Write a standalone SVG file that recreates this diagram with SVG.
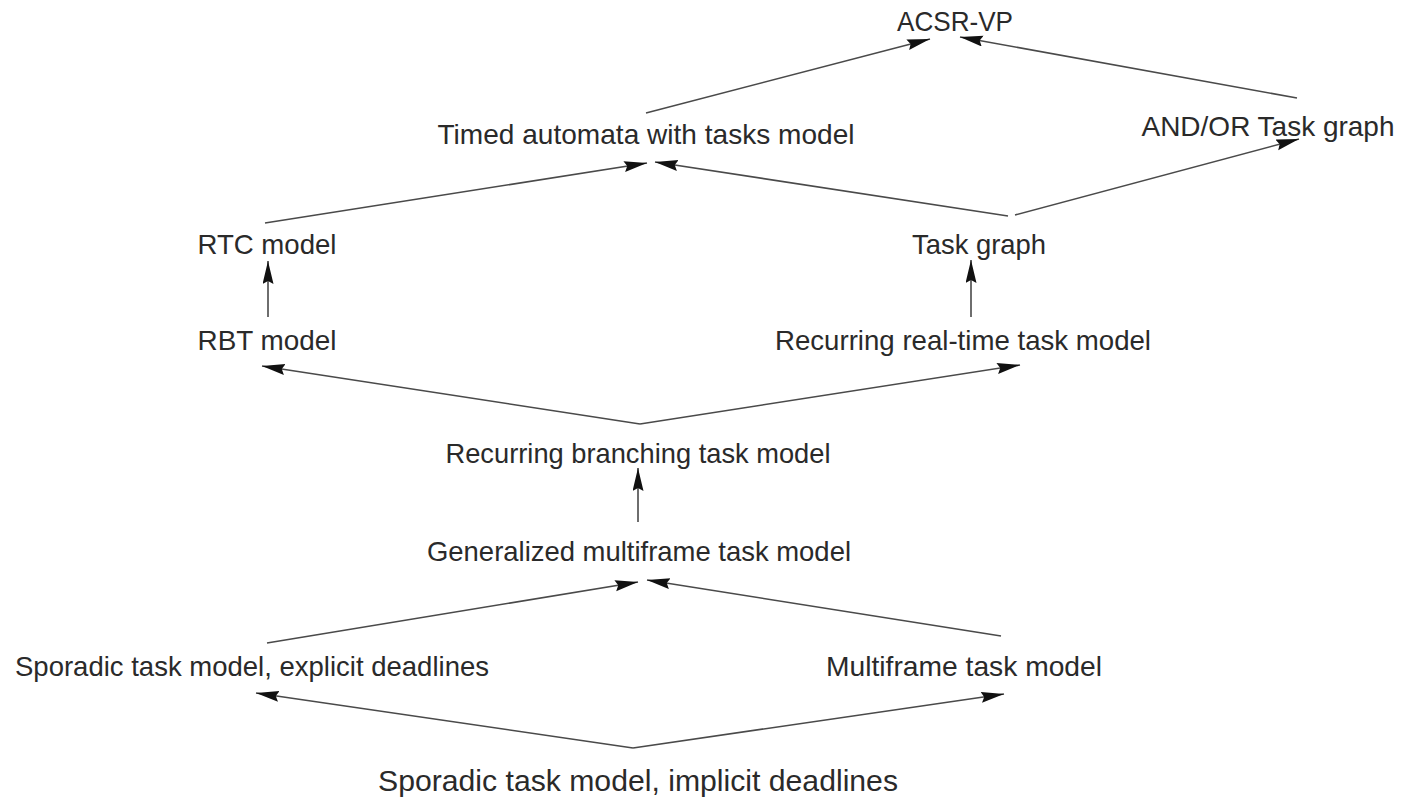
<svg xmlns="http://www.w3.org/2000/svg" width="1409" height="803" viewBox="0 0 1409 803">
  <style>
    .lbl { font-family: "Liberation Sans", Arial, sans-serif; font-size: 28px; fill: #2a2a2a; text-anchor: middle; }
    .big { font-size: 30px; }
    .edge { stroke: #4a4a4a; stroke-width: 1.6; fill: none; marker-end: url(#head); }
  </style>
  <defs>
    <!-- filled arrowhead, tip sits exactly on the line end -->
    <marker id="head" markerUnits="userSpaceOnUse" markerWidth="26" markerHeight="12" refX="23" refY="5.5" orient="auto">
      <path d="M0,0 L23,5.5 L0,11 L3,5.5 Z" fill="#111"/>
    </marker>
  </defs>
  <rect width="1409" height="803" fill="#fff"/>

  <g id="connectors">
    <line class="edge" x1="646" y1="113" x2="930" y2="39"/>
    <line class="edge" x1="1297" y1="98" x2="960" y2="37"/>
    <line class="edge" x1="265" y1="223" x2="647" y2="163"/>
    <line class="edge" x1="1008" y1="216" x2="655" y2="162"/>
    <line class="edge" x1="1015" y1="215" x2="1299" y2="139"/>
    <line class="edge" x1="268" y1="317" x2="268" y2="261"/>
    <line class="edge" x1="971" y1="317" x2="971" y2="260"/>
    <line class="edge" x1="640" y1="424" x2="262" y2="366"/>
    <line class="edge" x1="640" y1="424" x2="1020" y2="365"/>
    <line class="edge" x1="638" y1="522" x2="638" y2="468"/>
    <line class="edge" x1="267" y1="643" x2="638" y2="582"/>
    <line class="edge" x1="1001" y1="636" x2="647" y2="580"/>
    <line class="edge" x1="633" y1="748" x2="256" y2="693"/>
    <line class="edge" x1="633" y1="748" x2="1004" y2="694"/>
  </g>

  <g id="acsr-vp"><text class="lbl" x="955" y="31" textLength="116" lengthAdjust="spacingAndGlyphs">ACSR-VP</text></g>
  <g id="timed-automata"><text class="lbl" x="646" y="144" textLength="417" lengthAdjust="spacingAndGlyphs">Timed automata with tasks model</text></g>
  <g id="and-or-task-graph"><text class="lbl" x="1268" y="136" textLength="253" lengthAdjust="spacingAndGlyphs">AND/OR Task graph</text></g>
  <g id="rtc-model"><text class="lbl" x="267" y="254" textLength="139" lengthAdjust="spacingAndGlyphs">RTC model</text></g>
  <g id="task-graph"><text class="lbl" x="979" y="254" textLength="134" lengthAdjust="spacingAndGlyphs">Task graph</text></g>
  <g id="rbt-model"><text class="lbl" x="267" y="350" textLength="139" lengthAdjust="spacingAndGlyphs">RBT model</text></g>
  <g id="recurring-real-time"><text class="lbl" x="963" y="350" textLength="376" lengthAdjust="spacingAndGlyphs">Recurring real-time task model</text></g>
  <g id="recurring-branching"><text class="lbl" x="638" y="463" textLength="385" lengthAdjust="spacingAndGlyphs">Recurring branching task model</text></g>
  <g id="generalized-multiframe"><text class="lbl" x="639" y="561" textLength="424" lengthAdjust="spacingAndGlyphs">Generalized multiframe task model</text></g>
  <g id="sporadic-explicit"><text class="lbl" x="252" y="676" textLength="474" lengthAdjust="spacingAndGlyphs">Sporadic task model, explicit deadlines</text></g>
  <g id="multiframe"><text class="lbl" x="964" y="676" textLength="276" lengthAdjust="spacingAndGlyphs">Multiframe task model</text></g>
  <g id="sporadic-implicit"><text class="lbl big" x="638" y="791" textLength="520" lengthAdjust="spacingAndGlyphs">Sporadic task model, implicit deadlines</text></g>
</svg>
